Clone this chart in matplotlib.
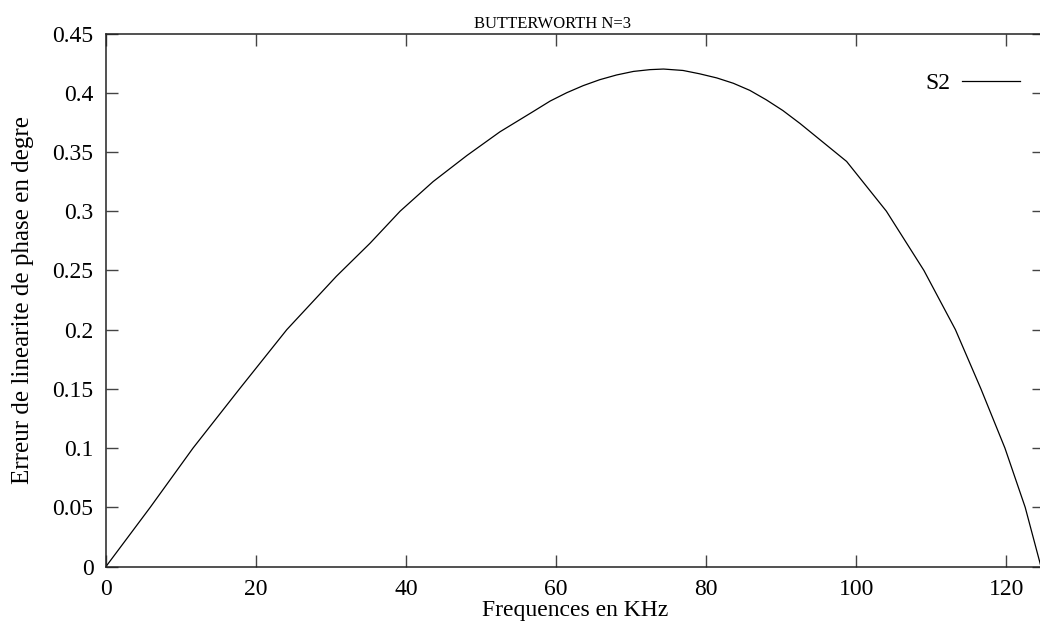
import matplotlib.pyplot as plt

# Erreur de linearite de phase, filtre Butterworth d'ordre 3
frequences = [0, 5.9, 11.6, 17.8, 24.1, 30.7, 35.2, 39.2, 43.6, 48.1, 52.5, 56.9,
              59.2, 61.4, 63.6, 65.8, 68.05, 70.3, 72.5, 74.3, 76.9, 79.1, 81.4,
              83.6, 85.8, 88.0, 90.2, 92.5, 98.7, 104.0,
              109.0, 113.2, 116.6, 119.8, 122.5, 124.6]
erreur = [0, 0.05, 0.10, 0.15, 0.20, 0.245, 0.273, 0.300, 0.325, 0.347, 0.367, 0.384,
          0.393, 0.400, 0.406, 0.411, 0.415, 0.418, 0.4195, 0.420, 0.4188, 0.416, 0.4125,
          0.408, 0.402, 0.394, 0.385, 0.374, 0.342, 0.300,
          0.25, 0.20, 0.15, 0.10, 0.05, 0.0]

x_ticks = [0, 20, 40, 60, 80, 100, 120]
y_ticks = [0, 0.05, 0.1, 0.15, 0.2, 0.25, 0.3, 0.35, 0.4, 0.45]
y_labels = ["0", "0.05", "0.1", "0.15", "0.2", "0.25", "0.3", "0.35", "0.4", "0.45"]

plt.rcParams["font.family"] = ["Liberation Serif", "DejaVu Serif"]

fig = plt.figure(figsize=(10.4, 6.24), dpi=100)
ax = fig.add_axes([0.1019, 0.0921, 0.9019, 0.8542])

ax.plot(frequences, erreur, color="black", linewidth=0.9, label="S2")

ax.set_xlim(0, 125)
ax.set_ylim(0, 0.45)
ax.set_xticks(x_ticks)
ax.set_yticks(y_ticks)
ax.set_yticklabels(y_labels)

ax.tick_params(direction="in", length=8.5, width=1.0, color="#444444",
               top=True, right=True, labelsize=17)
ax.tick_params(axis="x", pad=9)
ax.tick_params(axis="y", pad=9)
for s in ax.spines.values():
    s.set_linewidth(1.1)
    s.set_color("#222222")

ax.set_title("BUTTERWORTH N=3", fontsize=12, pad=4, x=0.4765)
ax.set_xlabel("Frequences en KHz", fontsize=17, labelpad=0)
ax.set_ylabel("Erreur de linearite de phase en degre", fontsize=18, labelpad=13)

ax.legend(loc="center right", frameon=False, markerfirst=False, fontsize=17,
          handlelength=2.45, handletextpad=0.5,
          bbox_to_anchor=(0.9844, 0.907), borderaxespad=0)

fig.savefig("out.png", dpi=100)
